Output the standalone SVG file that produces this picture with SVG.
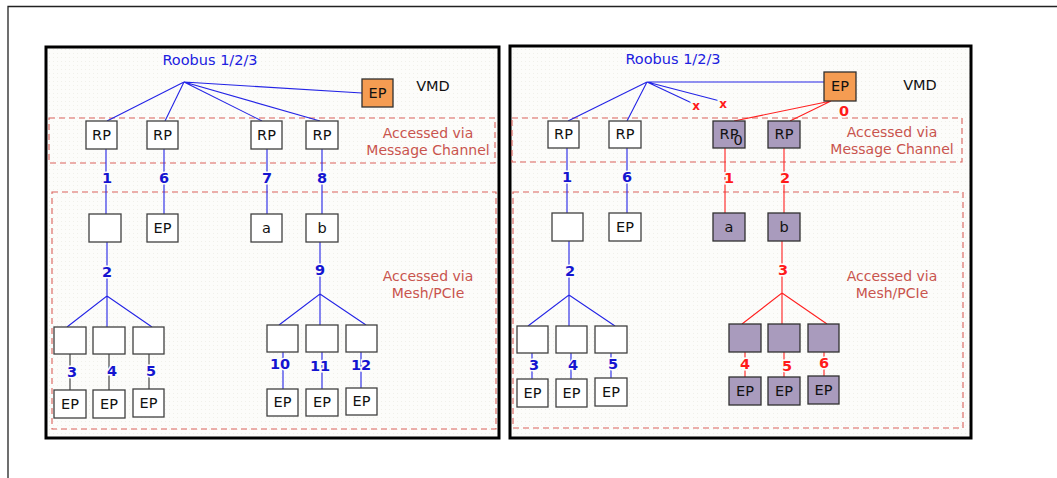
<svg xmlns="http://www.w3.org/2000/svg" width="1057" height="478" viewBox="0 0 1057 478">
<defs>
<pattern id="dots" width="4" height="4" patternUnits="userSpaceOnUse">
<rect width="4" height="4" fill="#fcfcfa"/>
<rect x="1" y="1" width="1" height="1" fill="#f0f0ea"/>
</pattern>
</defs>
<style>
.frame{fill:none;stroke:#222;stroke-width:1.3}
.panel{fill:url(#dots);stroke:#000;stroke-width:3}
.zone{fill:none;stroke:#d9605a;stroke-width:1.1;stroke-dasharray:6 4}
.zt{font-family:"DejaVu Sans",Verdana,sans-serif;font-size:14px;fill:#c9544e;text-anchor:middle}
.bus{font-family:"DejaVu Sans",Verdana,sans-serif;font-size:14.5px;fill:#2020e0;text-anchor:middle}
.vmd{font-family:"DejaVu Sans",Verdana,sans-serif;font-size:14.5px;fill:#111;text-anchor:middle}
.box{fill:#fff;stroke:#404040;stroke-width:1.3}
.pbox{fill:#a99bbd;stroke:#303030;stroke-width:1.3}
.obox{fill:#f59c52;stroke:#303030;stroke-width:1.3}
.bt{font-family:"DejaVu Sans",Verdana,sans-serif;font-size:14.5px;fill:#111;text-anchor:middle}
.bl{stroke:#2424e6;stroke-width:1.1;fill:none}
.rl{stroke:#ff2020;stroke-width:1.1;fill:none}
.nb{font-family:"DejaVu Sans",Verdana,sans-serif;font-size:14.5px;font-weight:bold;fill:#1414d0;text-anchor:middle;paint-order:stroke;stroke:#fcfcfa;stroke-width:3}
.nr{font-family:"DejaVu Sans",Verdana,sans-serif;font-size:14.5px;font-weight:bold;fill:#ff1a1a;text-anchor:middle;paint-order:stroke;stroke:#fcfcfa;stroke-width:3}
</style>
<rect width="1057" height="478" fill="#fff"/>
<path class="frame" d="M8 478 V6.5 H1057"/>
<rect class="panel" x="46" y="47" width="453" height="391"/>
<rect class="panel" x="510" y="46" width="461" height="392"/>
<rect class="zone" x="49" y="118" width="446" height="45"/>
<rect class="zone" x="52" y="192" width="444" height="237"/>
<rect class="zone" x="512" y="118" width="450" height="44"/>
<rect class="zone" x="513" y="192" width="450" height="236"/>
<g id="labels-left">
<text class="bus" x="210" y="65">Roobus 1/2/3</text>
<text class="vmd" x="433" y="91">VMD</text>
<text class="zt" x="428" y="138">Accessed via</text>
<text class="zt" x="428" y="155">Message Channel</text>
<text class="zt" x="428" y="281">Accessed via</text>
<text class="zt" x="428" y="298">Mesh/PCIe</text>
</g>
<g id="labels-right">
<text class="bus" x="673" y="64">Roobus 1/2/3</text>
<text class="vmd" x="920" y="90">VMD</text>
<text class="zt" x="892" y="137">Accessed via</text>
<text class="zt" x="892" y="154">Message Channel</text>
<text class="zt" x="892" y="281">Accessed via</text>
<text class="zt" x="892" y="298">Mesh/PCIe</text>
</g>
<g id="connectors">
<path class="bl" d="M184 82 L107 121 M184 82 L165 121 M184 82 L262 121 M184 82 L320 121 M184 82 L362 93"/>
<path class="bl" d="M106 149 V214 M164 149 V214 M267 149 V214 M322 149 V214"/>
<path class="bl" d="M107 242 V296 L67 327 M107 296 V327 M107 296 L152 327"/>
<path class="bl" d="M320 242 V294 L279 325 M320 294 V325 M320 294 L366 325"/>
<path d="M70 354 V390 M109 354 V390 M149 354 V389" stroke="#333" stroke-width="1.1" fill="none"/>
<path class="bl" d="M283 352 V389 M322 352 V389 M361 352 V388"/>
<path class="bl" d="M647 82 L568 121 M647 82 L627 121 M647 82 L694 104 M647 82 L720 101 M647 82 H824"/>
<path class="rl" d="M831 101 L734 121 M831 101 L790 121"/>
<path class="bl" d="M567 148 V213 M627 148 V213"/>
<path class="rl" d="M725 148 V213 M784 148 V213"/>
<path class="bl" d="M569 241 V295 L528 326 M569 295 V326 M569 295 L615 326"/>
<path class="rl" d="M782 241 V293 L742 324 M782 293 V324 M782 293 L827 324"/>
<path class="bl" d="M532 353 V379 M571 353 V379 M611 353 V378"/>
<path class="rl" d="M745 352 V377 M784 352 V377 M824 352 V376"/>
</g>
<g id="numbers">
<text class="nb" x="107" y="183">1</text>
<text class="nb" x="164" y="183">6</text>
<text class="nb" x="267" y="183">7</text>
<text class="nb" x="322" y="183">8</text>
<text class="nb" x="107" y="277">2</text>
<text class="nb" x="320" y="275">9</text>
<text class="nb" x="72" y="377">3</text>
<text class="nb" x="112" y="376">4</text>
<text class="nb" x="151" y="376">5</text>
<text class="nb" x="280" y="369">10</text>
<text class="nb" x="320" y="371">11</text>
<text class="nb" x="361" y="370">12</text>
<text class="nb" x="567" y="182">1</text>
<text class="nb" x="627" y="182">6</text>
<text class="nb" x="570" y="276">2</text>
<text class="nb" x="534" y="370">3</text>
<text class="nb" x="573" y="370">4</text>
<text class="nb" x="613" y="369">5</text>
<text class="nr" x="844" y="116">0</text>
<text class="nr" x="729" y="183">1</text>
<text class="nr" x="785" y="183">2</text>
<text class="nr" x="783" y="275">3</text>
<text class="nr" x="745" y="369">4</text>
<text class="nr" x="787" y="371">5</text>
<text class="nr" x="824" y="368">6</text>
<text class="nr" x="696" y="110" style="font-size:12px">x</text>
<text class="nr" x="723" y="108" style="font-size:12px">x</text>
</g>
<g id="vmd-ep-left"><rect class="obox" x="362" y="79" width="31" height="28"/><text class="bt" x="377.5" y="98">EP</text></g>
<g id="rp1-left"><rect class="box" x="86" y="121" width="31" height="28"/><text class="bt" x="101.5" y="140">RP</text></g>
<g id="rp2-left"><rect class="box" x="147" y="121" width="31" height="28"/><text class="bt" x="162.5" y="140">RP</text></g>
<g id="rp3-left"><rect class="box" x="251" y="121" width="31" height="28"/><text class="bt" x="266.5" y="140">RP</text></g>
<g id="rp4-left"><rect class="box" x="306" y="121" width="32" height="28"/><text class="bt" x="322" y="140">RP</text></g>
<g id="sw-left"><rect class="box" x="89" y="214" width="32" height="28"/></g>
<g id="ep6-left"><rect class="box" x="147" y="214" width="31" height="28"/><text class="bt" x="162.5" y="233">EP</text></g>
<g id="a-left"><rect class="box" x="251" y="214" width="31" height="28"/><text class="bt" x="266.5" y="233">a</text></g>
<g id="b-left"><rect class="box" x="306" y="214" width="32" height="28"/><text class="bt" x="322" y="233">b</text></g>
<g id="s3-left"><rect class="box" x="54" y="327" width="32" height="27"/></g>
<g id="s4-left"><rect class="box" x="93" y="327" width="32" height="27"/></g>
<g id="s5-left"><rect class="box" x="133" y="327" width="31" height="27"/></g>
<g id="ep3-left"><rect class="box" x="54" y="390" width="32" height="28"/><text class="bt" x="70" y="409">EP</text></g>
<g id="ep4-left"><rect class="box" x="93" y="390" width="32" height="28"/><text class="bt" x="109" y="409">EP</text></g>
<g id="ep5-left"><rect class="box" x="133" y="389" width="31" height="28"/><text class="bt" x="148.5" y="408">EP</text></g>
<g id="s10-left"><rect class="box" x="267" y="325" width="31" height="27"/></g>
<g id="s11-left"><rect class="box" x="306" y="325" width="32" height="27"/></g>
<g id="s12-left"><rect class="box" x="346" y="325" width="31" height="27"/></g>
<g id="ep10-left"><rect class="box" x="267" y="389" width="31" height="27"/><text class="bt" x="282.5" y="407">EP</text></g>
<g id="ep11-left"><rect class="box" x="306" y="389" width="32" height="27"/><text class="bt" x="322" y="407">EP</text></g>
<g id="ep12-left"><rect class="box" x="346" y="388" width="31" height="27"/><text class="bt" x="361.5" y="406">EP</text></g>
<g id="vmd-ep-right"><rect class="obox" x="824" y="72" width="32" height="29"/><text class="bt" x="840" y="91">EP</text></g>
<g id="rp1-right"><rect class="box" x="548" y="121" width="31" height="27"/><text class="bt" x="563.5" y="139">RP</text></g>
<g id="rp2-right"><rect class="box" x="609" y="121" width="32" height="27"/><text class="bt" x="625" y="139">RP</text></g>
<g id="rp3-right"><rect class="pbox" x="713" y="121" width="32" height="27"/><text class="bt" x="729" y="139">RP</text><text class="bt" x="738" y="145">0</text></g>
<g id="rp4-right"><rect class="pbox" x="768" y="121" width="32" height="27"/><text class="bt" x="784" y="139">RP</text></g>
<g id="sw-right"><rect class="box" x="552" y="213" width="31" height="28"/></g>
<g id="ep6-right"><rect class="box" x="609" y="213" width="32" height="28"/><text class="bt" x="625" y="232">EP</text></g>
<g id="a-right"><rect class="pbox" x="713" y="213" width="32" height="28"/><text class="bt" x="729" y="232">a</text></g>
<g id="b-right"><rect class="pbox" x="768" y="213" width="32" height="28"/><text class="bt" x="784" y="232">b</text></g>
<g id="s3-right"><rect class="box" x="517" y="326" width="31" height="27"/></g>
<g id="s4-right"><rect class="box" x="556" y="326" width="31" height="27"/></g>
<g id="s5-right"><rect class="box" x="595" y="326" width="32" height="27"/></g>
<g id="ep3-right"><rect class="box" x="517" y="379" width="31" height="28"/><text class="bt" x="532.5" y="398">EP</text></g>
<g id="ep4-right"><rect class="box" x="556" y="379" width="31" height="28"/><text class="bt" x="571.5" y="398">EP</text></g>
<g id="ep5-right"><rect class="box" x="595" y="378" width="32" height="28"/><text class="bt" x="611" y="397">EP</text></g>
<g id="s4-red"><rect class="pbox" x="729" y="324" width="32" height="28"/></g>
<g id="s5-red"><rect class="pbox" x="768" y="324" width="32" height="28"/></g>
<g id="s6-red"><rect class="pbox" x="808" y="324" width="31" height="28"/></g>
<g id="ep4-red"><rect class="pbox" x="729" y="377" width="32" height="28"/><text class="bt" x="745" y="396">EP</text></g>
<g id="ep5-red"><rect class="pbox" x="768" y="377" width="32" height="28"/><text class="bt" x="784" y="396">EP</text></g>
<g id="ep6-red"><rect class="pbox" x="808" y="376" width="31" height="28"/><text class="bt" x="823.5" y="395">EP</text></g>
</svg>
